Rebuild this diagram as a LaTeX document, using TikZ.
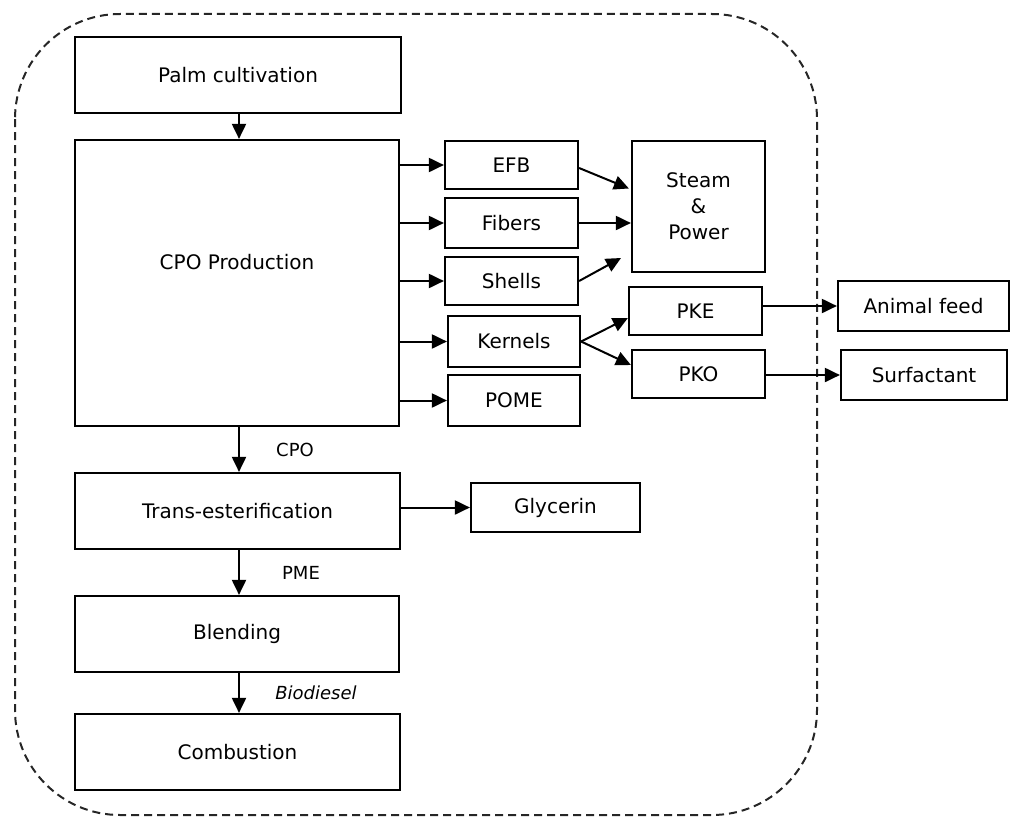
\documentclass[tikz,border=0pt]{standalone}
\usepackage{fontspec}
\setmainfont{DejaVu Sans}
\usetikzlibrary{arrows.meta,calc}
\tikzset{
  box/.style={draw=black, line width=2.2pt, inner sep=0pt, align=center, font=\fontsize{20}{26}\selectfont},
  arr/.style={line width=2pt, -{Triangle[length=15pt,width=14pt]}},
  lbl/.style={font=\fontsize{18}{22}\selectfont, inner sep=0pt},
  frame/.style={draw=black!85, line width=2pt, dash pattern=on 8pt off 5pt, rounded corners=105pt}
}
\newcommand{\bx}[6]{\node[box, minimum width={#4-#2}, minimum height={#5-#3}] (#1) at ({(#2+#4)/2},{(#3+#5)/2}) {#6};}
\begin{document}
\begin{tikzpicture}[x=1pt,y=-1pt]
\useasboundingbox (0,0) rectangle (1011,816);
\draw[frame] (15,14) rectangle (817,815);
\coordinate (ax) at (239,0);
% main column
\bx{palm}{75}{37}{401}{113}{}
\node[box, draw=none] (palmt) at (palm.center) {Palm cultivation};
\bx{cpo}{75}{140}{399}{426}{}
\node[box, draw=none] (cpot) at (237,262) {CPO Production};
\bx{trans}{75}{473}{400}{549}{Trans-esterification}
\bx{blend}{75}{596}{399}{672}{Blending}
\bx{comb}{75}{714}{400}{790}{Combustion}
% side products
\bx{efb}{445}{141}{578}{189}{EFB}
\bx{fib}{445}{198}{578}{248}{Fibers}
\bx{shl}{445}{257}{578}{305}{Shells}
\bx{ker}{448}{316}{580}{367}{Kernels}
\bx{pome}{448}{375}{580}{426}{POME}
\bx{steam}{632}{141}{765}{272}{Steam\\\&\\Power}
\bx{pke}{629}{287}{762}{335}{PKE}
\bx{pko}{632}{350}{765}{398}{PKO}
\bx{feed}{838}{281}{1009}{331}{Animal feed}
\bx{surf}{841}{350}{1007}{400}{Surfactant}
\bx{gly}{471}{483}{640}{532}{Glycerin}
% connectors
\draw[arr] (palm.south -| ax) -- (cpo.north -| ax);
\draw[arr] (cpo.east |- efb.west) -- (efb.west);
\draw[arr] (cpo.east |- fib.west) -- (fib.west);
\draw[arr] (cpo.east |- shl.west) -- (shl.west);
\draw[arr] (cpo.east |- ker.west) -- (ker.west);
\draw[arr] (cpo.east |- pome.west) -- (pome.west);
\coordinate (s1) at ($(steam.west)+(-2,-18)$);
\coordinate (s3) at (621,258);
\coordinate (k1) at ($(pke.west)+(0,7)$);
\coordinate (k2) at ($(pko.west)+(0,-9)$);
\draw[arr] ($(efb.east)+(0,3)$) -- (s1);
\draw[arr] (fib.east) -- (steam.west |- fib.east);
\draw[arr] (shl.east) -- (s3);
\draw[arr] (ker.east) -- (k1);
\draw[arr] (ker.east) -- (k2);
\draw[arr] (pke.east |- feed.west) -- (feed.west);
\draw[arr] (pko.east |- surf.west) -- (surf.west);
\draw[arr] (trans.east |- gly.west) -- (gly.west);
\draw[arr] (cpo.south -| ax) -- (trans.north -| ax);
\draw[arr] (trans.south -| ax) -- (blend.north -| ax);
\draw[arr] (blend.south -| ax) -- (comb.north -| ax);
% labels
\node[lbl] (lcpo) at (295,450) {CPO};
\node[lbl] (lpme) at (301,573) {PME};
\node[lbl, font=\fontsize{18}{22}\selectfont\itshape] (lbio) at (316,693) {Biodiesel};
\end{tikzpicture}
\end{document}
